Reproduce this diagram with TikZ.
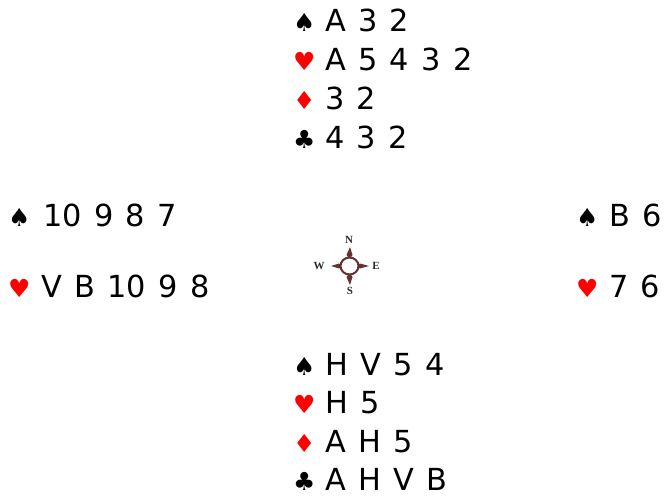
\documentclass[tikz,border=0pt]{standalone}
\usepackage{fontspec}
\setmainfont{DejaVu Sans}
\newfontfamily\compfont{Liberation Serif}
\definecolor{suitred}{RGB}{255,0,0}
\definecolor{compbrown}{RGB}{100,50,50}
\definecolor{completter}{RGB}{45,38,38}
\newcommand\widesp{\spaceskip=12.3bp plus 0bp minus 0bp\relax}
\begin{document}
\begin{tikzpicture}[x=1bp,y=-1bp,
  card/.style={anchor=base west, inner sep=0pt, font=\fontsize{30.5}{30.5}\selectfont, execute at begin node=\widesp},
  suit/.style={anchor=base west, inner sep=0pt, font=\fontsize{25}{25}\selectfont},
  redsuit/.style={suit, text=suitred},
  compl/.style={inner sep=0pt, font=\compfont\bfseries\fontsize{11}{11}\selectfont, text=completter},
  spike/.style={fill=compbrown, draw=none}]
\useasboundingbox (0,0) rectangle (664,497);
% North
\node[suit]    (ns) at (293,32)  {♠};
\node[card]    (nst) at (325,32) {A 3 2};
\node[redsuit] (nh) at (293,71)  {♥};
\node[card]    (nht) at (325,71) {A 5 4 3 2};
\node[redsuit] (nd) at (293,110) {♦};
\node[card]    (ndt) at (325,110) {3 2};
\node[suit]    (nc) at (293,148.5) {♣};
\node[card]    (nct) at (325,148.5) {4 3 2};
% West
\node[suit]    (ws) at (8,227)  {♠};
\node[card]    (wst) at (43,227) {10 9 8 7};
\node[redsuit] (wh) at (8,297)  {♥};
\node[card]    (wht) at (41,297) {V B 10 9 8};
% East
\node[suit]    (es) at (576,227)  {♠};
\node[card]    (est) at (609,227) {B 6};
\node[redsuit] (eh) at (576,297)  {♥};
\node[card]    (eht) at (609,297) {7 6};
% South
\node[suit]    (ss) at (293,375)  {♠};
\node[card]    (sst) at (325,375) {H V 5 4};
\node[redsuit] (sh) at (293,413)  {♥};
\node[card]    (sht) at (325,413) {H 5};
\node[redsuit] (sd) at (293,452)  {♦};
\node[card]    (sdt) at (325,452) {A H 5};
\node[suit]    (sc) at (293,490)  {♣};
\node[card]    (sct) at (325,490) {A H V B};
% Compass
\coordinate (cc) at (349.5,266);
\fill[spike] (350,247) -- (352.5,255) -- (349.5,259) -- (346.5,255) -- cycle;
\fill[spike] (350,285) -- (352.5,277) -- (349.5,273) -- (346.5,277) -- cycle;
\fill[spike] (331,266) -- (339,263.5) -- (343,266) -- (339,268.5) -- cycle;
\fill[spike] (369,266) -- (360,263.5) -- (356,266) -- (360,268.5) -- cycle;
\draw[compbrown, line width=2bp, fill=white] (cc) ellipse [x radius=9, y radius=8.5];
\node[compl] (cn) at (349,240) {N};
\node[compl] (cs) at (350,291) {S};
\node[compl] (cw) at (319,265.5) {W};
\node[compl] (ce) at (376,265.5) {E};
\end{tikzpicture}
\end{document}
